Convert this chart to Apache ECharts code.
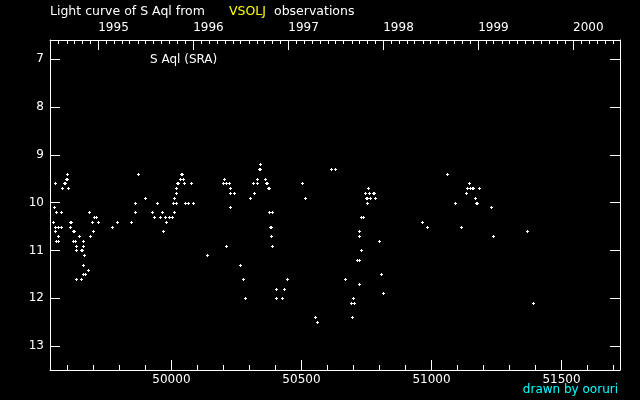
<!DOCTYPE html>
<html><head><meta charset="utf-8">
<script src="https://cdn.jsdelivr.net/npm/echarts@6/dist/echarts.min.js"></script>
<style>html,body{margin:0;padding:0;background:#000}#c{width:640px;height:400px}</style>
</head><body><div id="c"></div><script>
// Tick labels
const yearLabels = [1995, 1996, 1997, 1998, 1999, 2000];
const jdLabels = [50000, 50500, 51000, 51500];
const magTicks = [7, 8, 9, 10, 11, 12, 13];
// Observations: [JD - 2400000, visual magnitude]
const observations = [
  [49545,10.4],[49549,10.1],[49552,9.6],[49552,10.5],[49552,10.6],[49556,10.2],[49556,10.8],
  [49564,10.5],[49564,10.7],[49564,10.8],[49576,10.2],[49576,10.5],[49579,9.7],
  [49588,9.6],[49592,9.6],[49594,9.5],[49598,9.5],[49599,9.4],[49602,9.7],
  [49610,10.5],[49611,10.4],[49615,10.4],[49621,10.6],[49625,10.6],[49622,10.8],[49629,10.8],
  [49633,10.9],[49633,11.0],[49633,11.6],[49645,10.7],[49652,11.0],[49656,11.0],[49652,11.6],
  [49660,10.8],[49660,10.9],[49664,11.1],[49660,11.3],[49660,11.5],[49668,11.5],[49679,11.4],
  [49683,10.2],[49687,10.7],[49695,10.4],[49699,10.6],[49702,10.3],[49710,10.3],[49718,10.4],
  [49772,10.5],[49791,10.4],[49845,10.4],[49860,10.0],[49860,10.2],[49872,9.4],[49898,9.9],
  [49925,10.2],[49933,10.3],[49945,10.0],[49956,10.3],[49964,10.2],[49968,10.6],[49975,10.3],
  [49979,10.4],[49991,10.3],[50002,10.3],[50006,10.0],[50010,9.9],[50010,10.2],[50017,10.0],
  [50018,9.7],[50018,9.8],[50021,9.6],[50025,9.6],[50032,9.5],[50036,9.4],[50040,9.4],
  [50046,9.5],[50048,9.6],[50054,10.0],[50064,10.0],[50075,9.6],[50083,10.0],
  [50137,11.1],[50198,9.6],[50202,9.5],[50210,9.6],[50210,10.9],[50221,9.6],[50225,9.7],
  [50225,9.8],[50225,10.1],[50241,9.8],[50264,11.3],[50275,11.6],[50283,12.0],[50302,9.9],
  [50314,9.6],[50318,9.8],[50329,9.5],[50329,9.6],[50336,9.3],[50340,9.3],[50341,9.2],
  [50360,9.5],[50364,9.6],[50368,9.6],[50372,9.7],[50376,9.7],[50375,10.2],[50387,10.2],
  [50379,10.5],[50383,10.5],[50383,10.7],[50387,10.9],[50402,11.8],[50402,12.0],[50425,12.0],
  [50433,11.8],[50444,11.6],[50502,9.6],[50514,9.9],[50552,12.4],[50560,12.5],
  [50614,9.3],[50629,9.3],[50667,11.6],[50690,12.1],[50694,12.4],[50698,12.0],[50702,12.1],
  [50714,11.2],[50721,10.6],[50721,10.7],[50721,11.2],[50721,11.7],[50729,10.3],[50729,11.0],
  [50737,10.3],[50744,9.8],[50748,9.9],[50752,9.9],[50752,10.0],[50756,9.7],[50760,9.8],
  [50764,9.9],[50776,9.8],[50780,9.8],[50783,9.9],[50798,10.8],[50806,11.5],[50814,11.9],
  [50964,10.4],[50983,10.5],[51060,9.4],[51090,10.0],[51113,10.5],[51133,9.8],[51137,9.7],
  [51144,9.6],[51148,9.7],[51156,9.7],[51160,9.7],[51167,9.9],[51172,10.0],[51176,10.0],
  [51183,9.7],[51229,10.1],[51236,10.7],[51367,10.6],[51390,12.1]
];

const XMIN = 49533, XMAX = 51725, YMIN = 6.6, YMAX = 13.5;
const FONT = 'DejaVu Sans';
const white = '#ffffff';
const toRJD = (y, m) => Date.UTC(y, m, 1) / 864e5 + 40587.5;
const yearTicks = yearLabels.map(y => toRJD(y, 0));
const monthTicks = [];
for (let y = 1994; y <= 2000; y++) for (let m = 0; m < 12; m++) {
  const v = toRJD(y, m); if (v > XMIN + 1 && v < XMAX - 1) monthTicks.push(v);
}
const minorJD = [];
for (let v = Math.ceil(XMIN / 100) * 100; v < XMAX; v += 100) minorJD.push(v);

// tick rows: [value, axis edge (magnitude), signed length in px (+ = down, - = up)]
const xTickRows = []
  .concat(jdLabels.map(v => [v, YMAX, -10]))
  .concat(minorJD.map(v => [v, YMAX, -5]))
  .concat(yearTicks.map(v => [v, YMIN, 10]))
  .concat(monthTicks.map(v => [v, YMIN, 4]));

const chart = echarts.init(document.getElementById('c'), null, { renderer: 'canvas' });
chart.setOption({
  backgroundColor: '#000',
  animation: false,
  grid: { left: 50, right: 20, top: 40, bottom: 30, outerBoundsMode: 'none', containLabel: false },
  xAxis: [
    { type: 'value', position: 'bottom', min: XMIN, max: XMAX, splitLine: { show: false },
      axisLine: { show: true, onZero: false, lineStyle: { color: white, width: 1 } },
      axisTick: { show: false },
      axisLabel: { show: true, customValues: jdLabels, color: white, fontFamily: FONT, fontSize: 12, margin: 4,
        formatter: v => String(Math.round(v)) } },
    { type: 'value', position: 'top', min: XMIN, max: XMAX, splitLine: { show: false },
      axisLine: { show: true, onZero: false, lineStyle: { color: white, width: 1 } },
      axisTick: { show: false },
      axisLabel: { show: true, customValues: yearTicks, align: 'left', color: white, fontFamily: FONT, fontSize: 12, margin: 6,
        formatter: v => { const i = yearTicks.findIndex(t => Math.abs(t - v) < 1); return i >= 0 ? String(yearLabels[i]) : ''; } } }
  ],
  yAxis: [
    { type: 'value', position: 'left', inverse: true, min: YMIN, max: YMAX, splitLine: { show: false },
      axisLine: { show: true, onZero: false, lineStyle: { color: white, width: 1 } },
      axisTick: { show: true, inside: true, length: 10, customValues: magTicks, lineStyle: { color: white } },
      axisLabel: { show: true, customValues: magTicks, color: white, fontFamily: FONT, fontSize: 12, margin: 6 } },
    { type: 'value', position: 'right', inverse: true, min: YMIN, max: YMAX, splitLine: { show: false },
      axisLine: { show: true, onZero: false, lineStyle: { color: white, width: 1 } },
      axisTick: { show: true, inside: true, length: 10, customValues: magTicks, lineStyle: { color: white } },
      axisLabel: { show: false } }
  ],
  graphic: [
    { type: 'text', left: 50, top: 5, style: { text: 'Light curve of S Aql from', fill: white, font: '12.5px "DejaVu Sans"' } },
    { type: 'text', left: 229, top: 5, style: { text: 'VSOLJ', fill: '#ffff00', font: '12.5px "DejaVu Sans"' } },
    { type: 'text', left: 274, top: 5, style: { text: 'observations', fill: white, font: '12.5px "DejaVu Sans"' } },
    { type: 'text', left: 150, top: 54, style: { text: 'S Aql (SRA)', fill: white, font: '12px "DejaVu Sans"' } },
    { type: 'text', right: 22, top: 384, style: { text: 'drawn by ooruri', fill: '#00ffff', font: '12px "DejaVu Sans"' } }
  ],
  series: [
    { // x-axis tick marks, placed through the axis scales
      type: 'custom', xAxisIndex: 0, yAxisIndex: 0, silent: true, clip: false, z: 10,
      data: xTickRows,
      renderItem: (params, api) => {
        const p = api.coord([api.value(0), api.value(1)]);
        const len = api.value(2);
        const x = Math.round(p[0]);
        const y = Math.round(p[1]);
        const y0 = len < 0 ? y + len : y;
        return { type: 'rect', shape: { x: x, y: y0, width: 1, height: Math.abs(len) },
                 style: { fill: white } };
      }
    },
    { // observations drawn as 3x3 plus marks
      type: 'custom', xAxisIndex: 0, yAxisIndex: 0, silent: true,
      data: observations,
      renderItem: (params, api) => {
        const p = api.coord([api.value(0), api.value(1)]);
        const x = Math.round(p[0]), y = Math.round(p[1]);
        return { type: 'group', children: [
          { type: 'rect', shape: { x: x - 1, y: y, width: 3, height: 1 }, style: { fill: white } },
          { type: 'rect', shape: { x: x, y: y - 1, width: 1, height: 3 }, style: { fill: white } }
        ] };
      }
    }
  ]
});
</script></body></html>
